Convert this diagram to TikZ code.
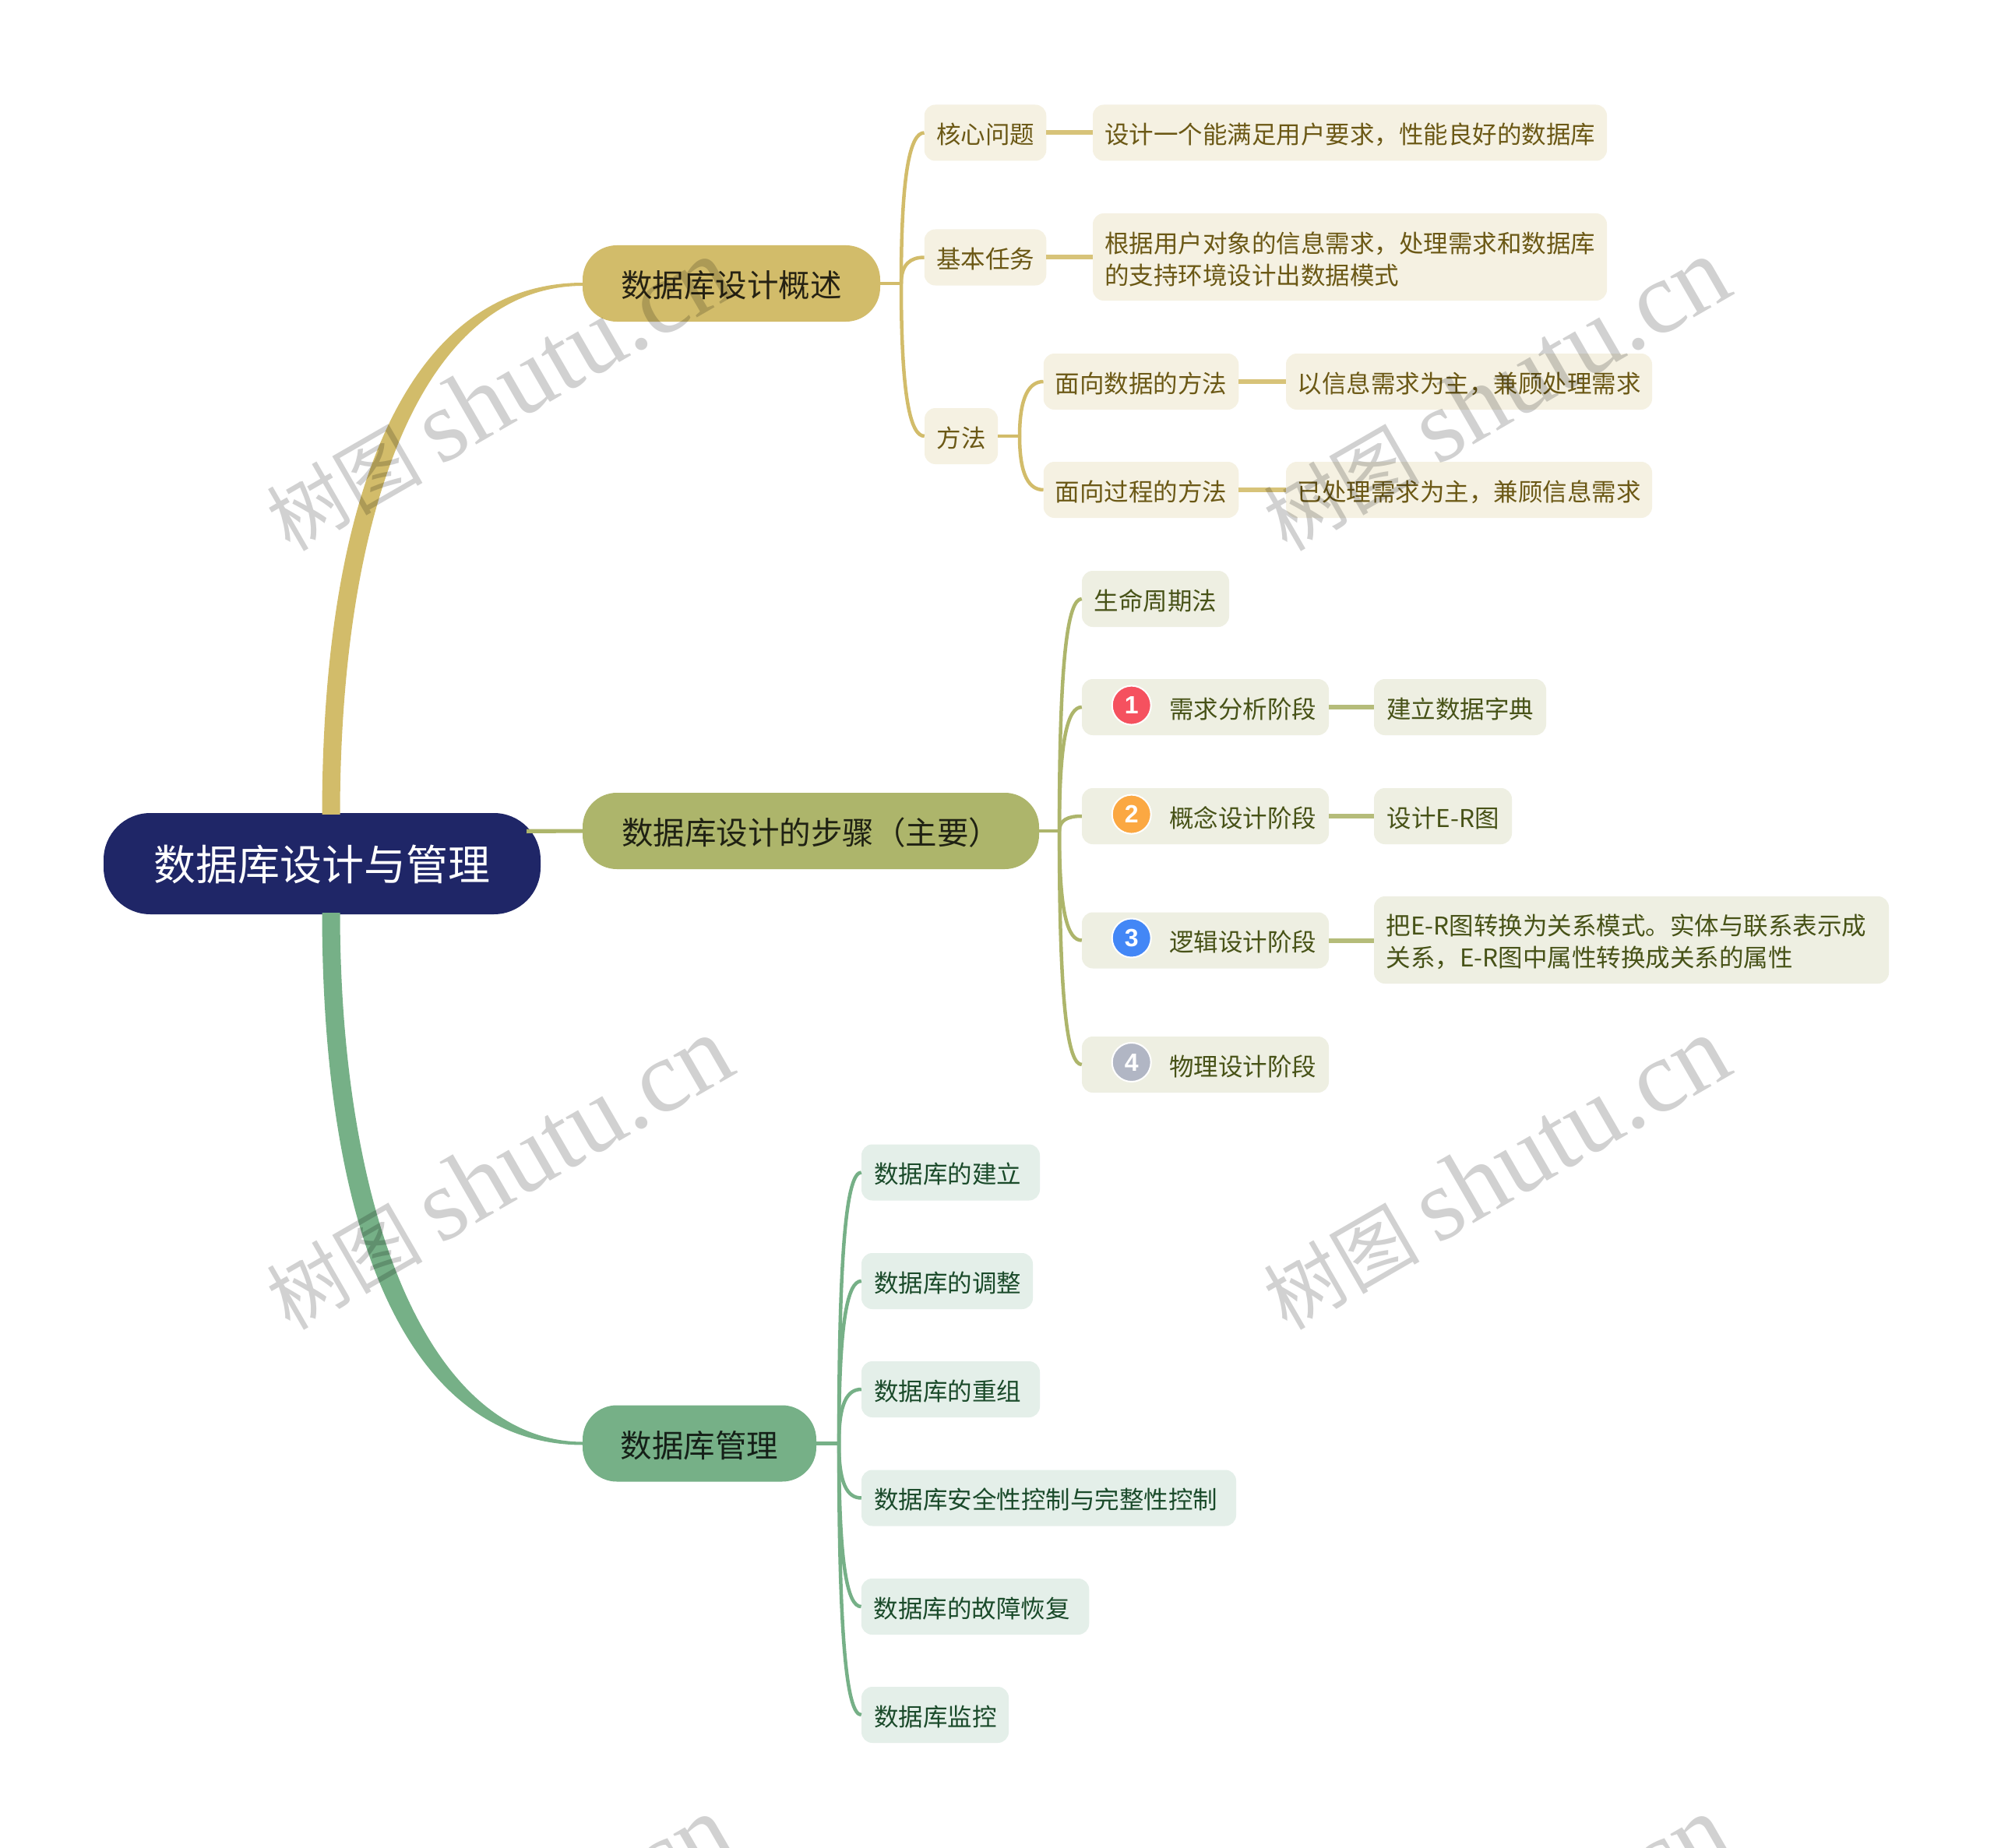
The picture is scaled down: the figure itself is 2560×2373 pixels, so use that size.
\documentclass[tikz,border=0pt]{standalone}
\usepackage{fontspec}
\setmainfont{Noto Sans CJK SC}
\newfontfamily\wmlat{Liberation Serif}
\newfontfamily\digitfont{Liberation Sans}
\usetikzlibrary{calc}
\definecolor{navy}{HTML}{1F2667}
\definecolor{gold}{HTML}{D2BC6A}
\definecolor{goldlt}{HTML}{F5F1E2}
\definecolor{goldtx}{HTML}{6B5815}
\definecolor{olive}{HTML}{ADB56B}
\definecolor{olivelt}{HTML}{EEEFE2}
\definecolor{olivetx}{HTML}{475217}
\definecolor{grn}{HTML}{76B087}
\definecolor{grnlt}{HTML}{E4EFE9}
\definecolor{grntx}{HTML}{1A4A2A}
\definecolor{badgered}{HTML}{F5515F}
\definecolor{badgeorange}{HTML}{FBA842}
\definecolor{badgeblue}{HTML}{4387F6}
\definecolor{badgegray}{HTML}{B1B6C4}
\newcommand{\wmtext}{\fontsize{100}{110}\selectfont 树图 {\wmlat\fontsize{132}{140}\selectfont shutu.cn}}
\tikzset{
  rootbox/.style={rectangle,rounded corners=60pt,fill=navy,text=white,minimum width=561pt,minimum height=130pt,inner sep=0pt,
     font=\fontsize{54}{60}\selectfont,text height=47pt,text depth=5pt},
  topic/.style={rectangle,rounded corners=44pt,minimum height=98pt,inner sep=0pt,
     font=\fontsize{40.5}{48}\selectfont,text height=38pt,text depth=3pt},
  sub/.style={rectangle,rounded corners=14pt,minimum height=72pt,inner sep=0pt,
     font=\fontsize{31.5}{41}\selectfont,text height=29pt,text depth=1pt},
  multi/.style={rectangle,rounded corners=14pt,minimum height=112pt,inner sep=0pt,align=left,
     font=\fontsize{31.5}{41}\selectfont},
  goldbox/.style={sub,fill=goldlt,text=goldtx},
  olivebox/.style={sub,fill=olivelt,text=olivetx},
  grnbox/.style={sub,fill=grnlt,text=grntx},
  iconbox/.style={olivebox,minimum width=317pt,text width=285pt,align=right},
  badge/.style={circle,draw=white,line width=2pt,minimum size=50pt,inner sep=0pt,text=white,
     font=\digitfont\bfseries\fontsize{32}{32}\selectfont},
  glink/.style={draw=gold,line width=4.5pt,line cap=butt},
  olink/.style={draw=olive,line width=4.5pt,line cap=butt},
  slink/.style={draw=grn,line width=4.5pt,line cap=butt},
  gnear/.style={draw=gold!90!white,line width=6pt},
  onear/.style={draw=olive!90!white,line width=6pt},
  wm/.style={text=black,opacity=.18,rotate=30,inner sep=0pt},
}
\begin{document}
\begin{tikzpicture}[x=1pt,y=-1pt]
\fill[white] (0,0) rectangle (2560,2373);
\useasboundingbox (0,0) rectangle (2560,2373);
% nodes
\node[rootbox] (root) at (413.5,1109) {数据库设计与管理};
\node[topic,fill=gold,text=black!82!gold,minimum width=382pt] (ta) at (939,364) {数据库设计概述};
\node[topic,fill=olive,text=black!82!olive,minimum width=586pt] (tb) at (1041,1067) {数据库设计的步骤（主要）};
\node[topic,fill=grn,text=black!82!grn,minimum width=300pt] (tc) at (898,1853.5) {数据库管理};
% gold branch
\node[goldbox,minimum width=156.5pt] (a1) at (1265,170.5) {核心问题};
\node[goldbox,minimum width=660pt] (a1x) at (1733,170.5) {设计一个能满足用户要求，性能良好的数据库};
\node[goldbox,minimum width=156.5pt] (a2) at (1265,330.5) {基本任务};
\node[multi,fill=goldlt,text=goldtx,minimum width=660pt,text width=630pt] (a2x) at (1733,330) {\rule{0pt}{33pt}根据用户对象的信息需求，处理需求和数据库\\的支持环境设计出数据模式};
\node[goldbox,minimum width=94pt] (a3) at (1234,560) {方法};
\node[goldbox,minimum width=250.5pt] (a31) at (1465,490) {面向数据的方法};
\node[goldbox,minimum width=470pt] (a31x) at (1886,490) {以信息需求为主，兼顾处理需求};
\node[goldbox,minimum width=250.5pt] (a32) at (1465,629) {面向过程的方法};
\node[goldbox,minimum width=470pt] (a32x) at (1886,629) {已处理需求为主，兼顾信息需求};
% olive branch
\node[olivebox,minimum width=189pt] (b0) at (1483.5,769) {生命周期法};
\node[iconbox] (b1) at (1547.5,908) {需求分析阶段};
\node[iconbox] (b2) at (1547.5,1048) {概念设计阶段};
\node[iconbox] (b3) at (1547.5,1207.5) {逻辑设计阶段};
\node[iconbox] (b4) at (1547.5,1367) {物理设计阶段};
\node[olivebox,minimum width=221pt] (b1x) at (1874.5,908) {建立数据字典};
\node[olivebox,minimum width=177pt] (b2x) at (1852.5,1048) {设计E-R图};
\node[multi,fill=olivelt,text=olivetx,minimum width=661pt,text width=630pt] (b3x) at (2094.5,1207) {\rule{0pt}{31pt}把E-R图转换为关系模式。实体与联系表示成\\关系，E-R图中属性转换成关系的属性};
\node[badge,fill=badgered] (i1) at (1452.7,905.6) {1};
\node[badge,fill=badgeorange] (i2) at (1452.7,1045.6) {2};
\node[badge,fill=badgeblue] (i3) at (1452.7,1204.5) {3};
\node[badge,fill=badgegray] (i4) at (1452.7,1364) {4};
% green branch
\node[grnbox,minimum width=229pt,text width=197pt,align=left] (c1) at (1220.5,1505.5) {数据库的建立};
\node[grnbox,minimum width=220pt,text width=188pt,align=left] (c2) at (1216,1645) {数据库的调整};
\node[grnbox,minimum width=229pt,text width=197pt,align=left] (c3) at (1220.5,1784) {数据库的重组};
\node[grnbox,minimum width=481pt,text width=449pt,align=left] (c4) at (1346.5,1923.5) {数据库安全性控制与完整性控制};
\node[grnbox,minimum width=292.5pt,text width=260.5pt,align=left] (c5) at (1252,2063) {数据库的故障恢复};
\node[grnbox,minimum width=189pt,text width=157pt,align=left] (c6) at (1200.5,2202) {数据库监控};
% main tapered connectors
\fill[gold] ($(root.north)+(0,2)$) .. controls (414,640) and (520,363) .. ($(ta.west)+(1,-1)$) -- ($(ta.west)+(1,3)$) .. controls (540,367) and (437,660) .. ($(root.north)+(23,2)$) -- cycle;
\fill[grn] ($(root.south)+(0,-2)$) .. controls (414,1578) and (520,1855) .. ($(tc.west)+(1,2)$) -- ($(tc.west)+(1,-2)$) .. controls (550,1851) and (437,1558) .. ($(root.south)+(23,-2)$) -- cycle;
\coordinate (rb) at (676,1064.5);
\fill[olive] (rb) -- ($(tb.west)+(1,-2.5)$) -- ($(tb.west)+(1,2.5)$) -- ($(rb)+(0,5.5)$) -- cycle;
% stems
\coordinate (sa) at (1157,364);
\coordinate (sm) at (1309,560);
\coordinate (sb) at (1360,1067);
\coordinate (sc) at (1077,1853.5);
\draw[glink] (ta.east) -- (sa);
\draw[glink] (sa) .. controls (1157,219) and (1169,170.5) .. (a1.west);
\draw[glink] (sa) .. controls (1157,339) and (1169,330.5) .. (a2.west);
\draw[glink] (sa) .. controls (1157,511) and (1169,560) .. (a3.west);
\draw[glink] (a3.east) -- (sm);
\draw[glink] (sm) .. controls (1309,508) and (1322,490) .. (a31.west);
\draw[glink] (sm) .. controls (1309,612) and (1322,629) .. (a32.west);
\draw[gnear] (a1.east) -- (a1x.west);
\draw[gnear] (a2.east) -- (a2.east -| a2x.west);
\draw[gnear] (a31.east) -- (a31x.west);
\draw[gnear] (a32.east) -- (a32x.west);
\draw[olink] (tb.east) -- (sb);
\draw[olink] (sb) .. controls (1360,843) and (1371,769) .. (b0.west);
\draw[olink] (sb) .. controls (1360,948) and (1371,908) .. (b1.west);
\draw[olink] (sb) .. controls (1360,1053) and (1371,1048) .. (b2.west);
\draw[olink] (sb) .. controls (1360,1174) and (1371,1207.5) .. (b3.west);
\draw[olink] (sb) .. controls (1360,1293) and (1371,1367) .. (b4.west);
\draw[onear] (b1.east) -- (b1x.west);
\draw[onear] (b2.east) -- (b2x.west);
\draw[onear] (b3.east) -- (b3.east -| b3x.west);
\draw[slink] (tc.east) -- (sc);
\draw[slink] (sc) .. controls (1077,1592) and (1088,1505.5) .. (c1.west);
\draw[slink] (sc) .. controls (1077,1697) and (1088,1645) .. (c2.west);
\draw[slink] (sc) .. controls (1077,1801) and (1088,1784) .. (c3.west);
\draw[slink] (sc) .. controls (1077,1906) and (1088,1923.5) .. (c4.west);
\draw[slink] (sc) .. controls (1077,2010) and (1088,2063) .. (c5.west);
\draw[slink] (sc) .. controls (1077,2115) and (1088,2202) .. (c6.west);
% watermarks
\begin{scope}
\clip (0,0) rectangle (2560,2373);
\node[wm] (w1) at (640,507) {\wmtext};
\node[wm] (w2) at (1920,507) {\wmtext};
\node[wm] (w3) at (640,1507) {\wmtext};
\node[wm] (w4) at (1920,1507) {\wmtext};
\node[wm] (w5) at (640,2507) {\wmtext};
\node[wm] (w6) at (1920,2507) {\wmtext};
\end{scope}
\end{tikzpicture}
\end{document}
